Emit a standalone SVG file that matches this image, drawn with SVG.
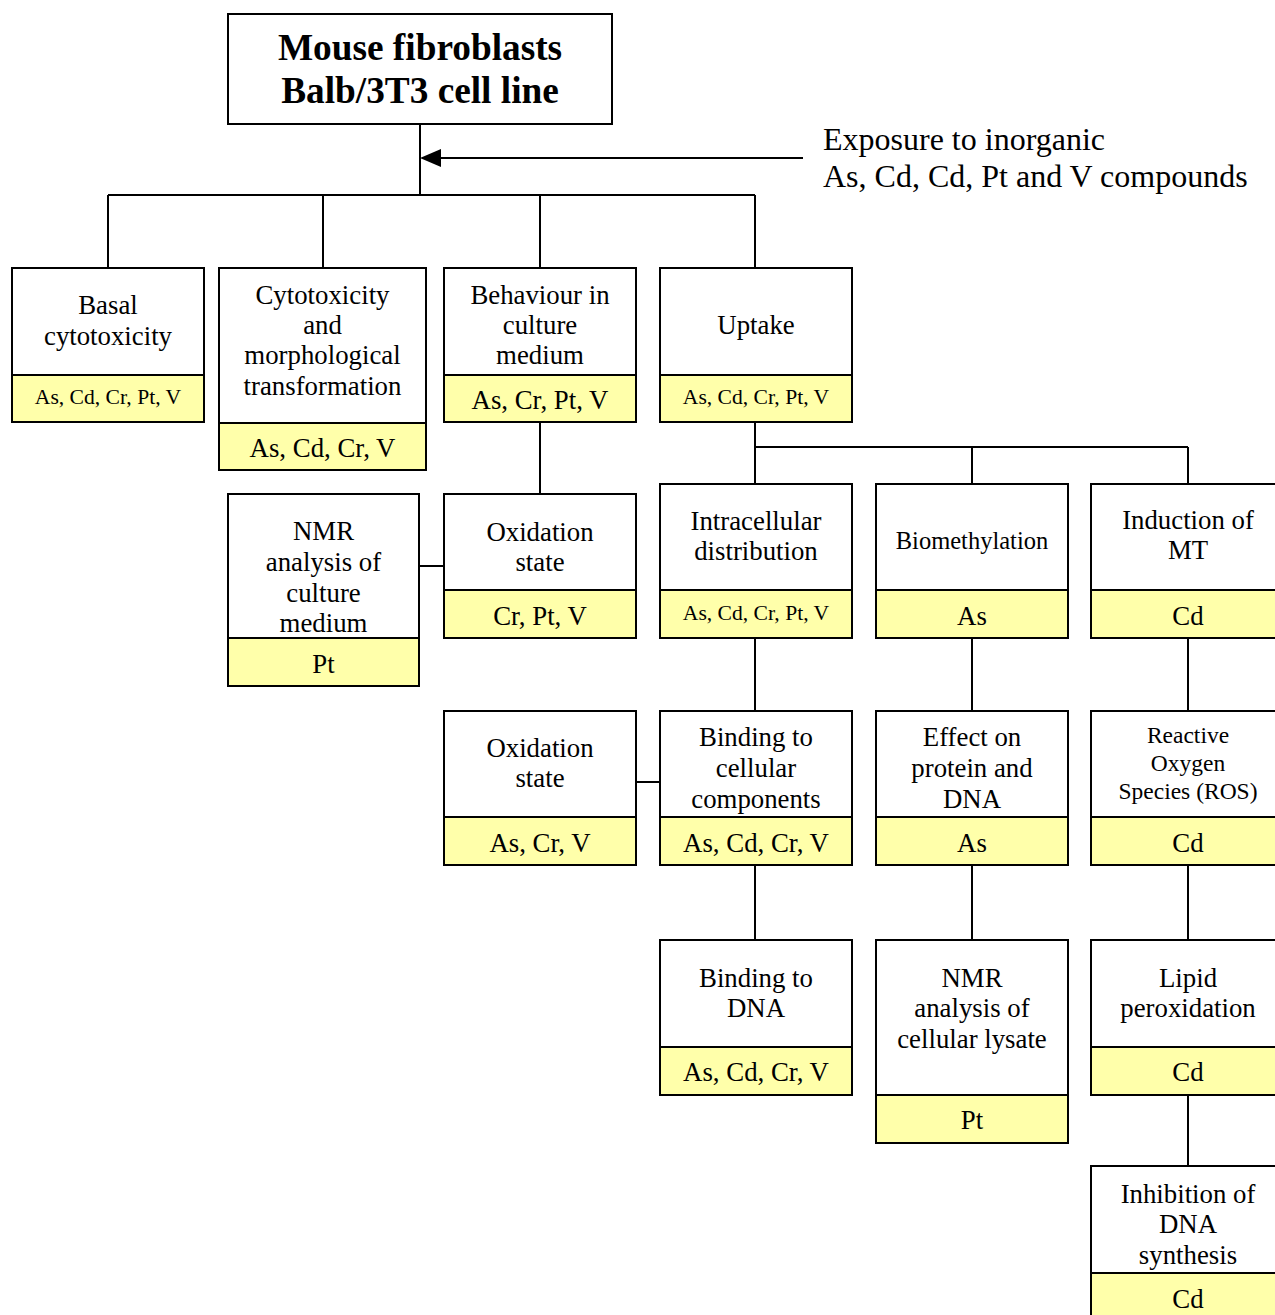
<svg xmlns="http://www.w3.org/2000/svg" width="1275" height="1315" viewBox="0 0 1275 1315">
<style>
.b{fill:#fff;stroke:#000;stroke-width:2}
.y{fill:#FFFFAA;stroke:#000;stroke-width:2}
.t{font-family:"Liberation Serif","Times New Roman",serif;font-size:26.8px;text-anchor:middle;fill:#000}
.m{font-family:"Liberation Serif","Times New Roman",serif;font-size:24.5px;text-anchor:middle;fill:#000}
.s{font-family:"Liberation Serif","Times New Roman",serif;font-size:21.6px;text-anchor:middle;fill:#000}
.h{font-family:"Liberation Serif","Times New Roman",serif;font-size:37.3px;font-weight:bold;text-anchor:middle;fill:#000}
.e{font-family:"Liberation Serif","Times New Roman",serif;font-size:32px;fill:#000}
.c{fill:none;stroke:#000;stroke-width:2}
</style>
<rect width="1275" height="1315" fill="#fff"/>
<g id="connectors">
<path class="c" d="M420,124 V195 M108,195 H755 M108,195 V268 M323,195 V268 M540,195 V268 M755,195 V268"/>
<line class="c" x1="803" y1="158" x2="440" y2="158"/>
<path d="M420,158 L441,149 L441,167 Z" fill="#000"/>
<path class="c" d="M540,422 V494 M419,566 H444"/>
<path class="c" d="M755,422 V484 M755,447 H1188 M972,447 V484 M1188,447 V484"/>
<path class="c" d="M755,638 V711 M972,638 V711 M1188,638 V711 M636,782 H660"/>
<path class="c" d="M755,865 V940 M972,865 V940 M1188,865 V940 M1188,1095 V1166"/>
</g>
<g id="root">
<rect class="b" x="228" y="14" width="384" height="110"/>
<text class="h" x="420" y="60">Mouse fibroblasts</text>
<text class="h" x="420" y="103">Balb/3T3 cell line</text>
</g>
<g id="exposure">
<text class="e" x="823" y="150">Exposure to inorganic</text>
<text class="e" x="823" y="187">As, Cd, Cd, Pt and V compounds</text>
</g>
<g id="basal">
<rect class="b" x="12" y="268" width="192" height="107"/>
<rect class="y" x="12" y="375" width="192" height="47"/>
<text class="t" x="108" y="314">Basal</text>
<text class="t" x="108" y="345">cytotoxicity</text>
<text class="s" x="108" y="404">As, Cd, Cr, Pt, V</text>
</g>
<g id="cytotox">
<rect class="b" x="219" y="268" width="207" height="155"/>
<rect class="y" x="219" y="423" width="207" height="47"/>
<text class="t" x="322.5" y="304">Cytotoxicity</text>
<text class="t" x="322.5" y="334">and</text>
<text class="t" x="322.5" y="364">morphological</text>
<text class="t" x="322.5" y="395">transformation</text>
<text class="t" x="322.5" y="457">As, Cd, Cr, V</text>
</g>
<g id="behaviour">
<rect class="b" x="444" y="268" width="192" height="107"/>
<rect class="y" x="444" y="375" width="192" height="47"/>
<text class="t" x="540" y="304">Behaviour in</text>
<text class="t" x="540" y="334">culture</text>
<text class="t" x="540" y="364">medium</text>
<text class="t" x="540" y="409">As, Cr, Pt, V</text>
</g>
<g id="uptake">
<rect class="b" x="660" y="268" width="192" height="107"/>
<rect class="y" x="660" y="375" width="192" height="47"/>
<text class="t" x="756" y="334">Uptake</text>
<text class="s" x="756" y="404">As, Cd, Cr, Pt, V</text>
</g>
<g id="nmr-medium">
<rect class="b" x="228" y="494" width="191" height="144"/>
<rect class="y" x="228" y="638" width="191" height="48"/>
<text class="t" x="323.5" y="540">NMR</text>
<text class="t" x="323.5" y="571">analysis of</text>
<text class="t" x="323.5" y="602">culture</text>
<text class="t" x="323.5" y="632">medium</text>
<text class="t" x="323.5" y="673">Pt</text>
</g>
<g id="oxidation1">
<rect class="b" x="444" y="494" width="192" height="96"/>
<rect class="y" x="444" y="590" width="192" height="48"/>
<text class="t" x="540" y="541">Oxidation</text>
<text class="t" x="540" y="571">state</text>
<text class="t" x="540" y="625">Cr, Pt, V</text>
</g>
<g id="intracellular">
<rect class="b" x="660" y="484" width="192" height="106"/>
<rect class="y" x="660" y="590" width="192" height="48"/>
<text class="t" x="756" y="530">Intracellular</text>
<text class="t" x="756" y="560">distribution</text>
<text class="s" x="756" y="620">As, Cd, Cr, Pt, V</text>
</g>
<g id="biomethylation">
<rect class="b" x="876" y="484" width="192" height="106"/>
<rect class="y" x="876" y="590" width="192" height="48"/>
<text class="m" x="972" y="549">Biomethylation</text>
<text class="t" x="972" y="625">As</text>
</g>
<g id="induction-mt">
<rect class="b" x="1091" y="484" width="200" height="106"/>
<rect class="y" x="1091" y="590" width="200" height="48"/>
<text class="t" x="1188" y="529">Induction of</text>
<text class="t" x="1188" y="559">MT</text>
<text class="t" x="1188" y="625">Cd</text>
</g>
<g id="oxidation2">
<rect class="b" x="444" y="711" width="192" height="106"/>
<rect class="y" x="444" y="817" width="192" height="48"/>
<text class="t" x="540" y="757">Oxidation</text>
<text class="t" x="540" y="787">state</text>
<text class="t" x="540" y="852">As, Cr, V</text>
</g>
<g id="binding-cellular">
<rect class="b" x="660" y="711" width="192" height="106"/>
<rect class="y" x="660" y="817" width="192" height="48"/>
<text class="t" x="756" y="746">Binding to</text>
<text class="t" x="756" y="777">cellular</text>
<text class="t" x="756" y="808">components</text>
<text class="t" x="756" y="852">As, Cd, Cr, V</text>
</g>
<g id="effect-protein">
<rect class="b" x="876" y="711" width="192" height="106"/>
<rect class="y" x="876" y="817" width="192" height="48"/>
<text class="t" x="972" y="746">Effect on</text>
<text class="t" x="972" y="777">protein and</text>
<text class="t" x="972" y="808">DNA</text>
<text class="t" x="972" y="852">As</text>
</g>
<g id="ros">
<rect class="b" x="1091" y="711" width="200" height="106"/>
<rect class="y" x="1091" y="817" width="200" height="48"/>
<text class="s" x="1188" y="743" style="font-size:23.5px">Reactive</text>
<text class="s" x="1188" y="771" style="font-size:23.5px">Oxygen</text>
<text class="s" x="1188" y="799" style="font-size:23.5px">Species (ROS)</text>
<text class="t" x="1188" y="852">Cd</text>
</g>
<g id="binding-dna">
<rect class="b" x="660" y="940" width="192" height="107"/>
<rect class="y" x="660" y="1047" width="192" height="48"/>
<text class="t" x="756" y="987">Binding to</text>
<text class="t" x="756" y="1017">DNA</text>
<text class="t" x="756" y="1081">As, Cd, Cr, V</text>
</g>
<g id="nmr-lysate">
<rect class="b" x="876" y="940" width="192" height="155"/>
<rect class="y" x="876" y="1095" width="192" height="48"/>
<text class="t" x="972" y="987">NMR</text>
<text class="t" x="972" y="1017">analysis of</text>
<text class="t" x="972" y="1048">cellular lysate</text>
<text class="t" x="972" y="1129">Pt</text>
</g>
<g id="lipid">
<rect class="b" x="1091" y="940" width="200" height="107"/>
<rect class="y" x="1091" y="1047" width="200" height="48"/>
<text class="t" x="1188" y="987">Lipid</text>
<text class="t" x="1188" y="1017">peroxidation</text>
<text class="t" x="1188" y="1081">Cd</text>
</g>
<g id="inhibition">
<rect class="b" x="1091" y="1166" width="200" height="107"/>
<rect class="y" x="1091" y="1273" width="200" height="60"/>
<text class="t" x="1188" y="1203">Inhibition of</text>
<text class="t" x="1188" y="1233">DNA</text>
<text class="t" x="1188" y="1264">synthesis</text>
<text class="t" x="1188" y="1308">Cd</text>
</g>
</svg>
